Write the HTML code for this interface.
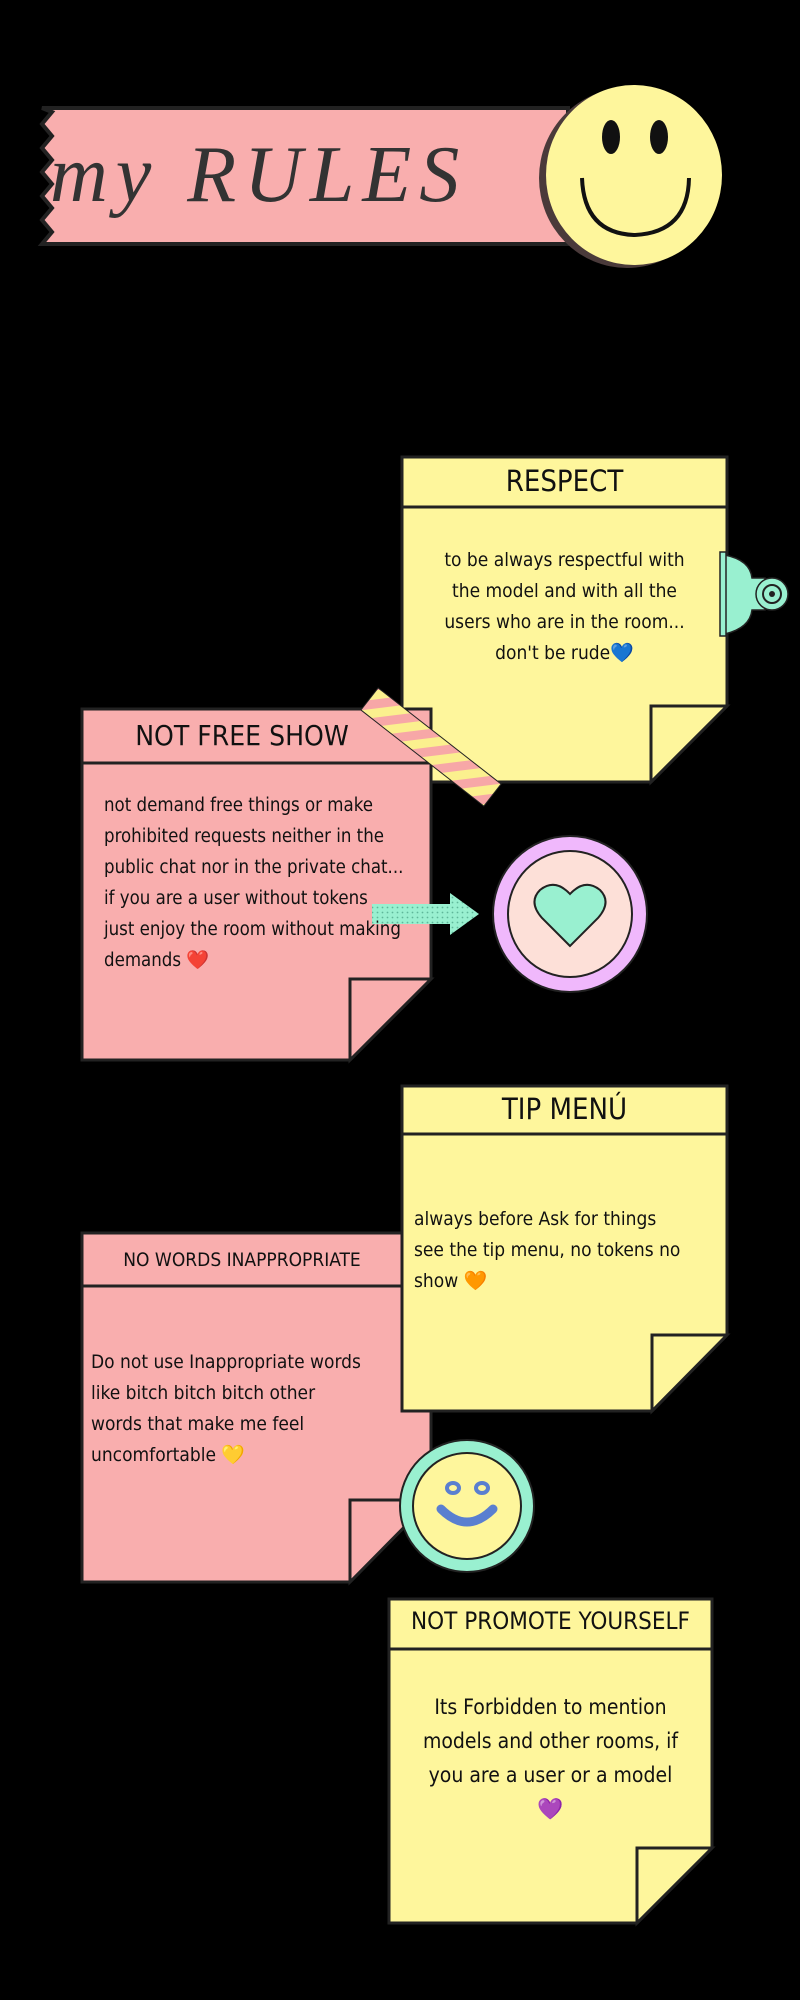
<!DOCTYPE html>
<html><head><meta charset="utf-8"><style>
html,body{margin:0;padding:0;background:#000;}
body{width:800px;height:2000px;position:relative;overflow:hidden;font-family:"Liberation Sans Narrow","DejaVu Sans Condensed","Liberation Sans",sans-serif;color:#111;}
.t{position:absolute;white-space:nowrap;}
.c{text-align:center;}
svg{position:absolute;left:0;top:0;}
</style></head><body>
<svg width="800" height="2000" viewBox="0 0 800 2000">
<defs>
<pattern id="st" width="18" height="18" patternUnits="userSpaceOnUse" patternTransform="rotate(45)">
<rect width="18" height="18" fill="#fbf08e"/><rect width="9" height="18" fill="#f7a7a7"/></pattern>
<pattern id="dot" width="5" height="5" patternUnits="userSpaceOnUse"><rect width="5" height="5" fill="#99f0d0"/><circle cx="2.5" cy="2.5" r="0.9" fill="#5fb79a"/></pattern>
</defs>
<!-- banner -->
<polygon points="42,108 568,108 568,244 42,244 52,232 42,220 52,208 42,196 52,184 42,172 52,160 42,148 52,136 42,124 52,112" fill="#f9aeae" stroke="#222" stroke-width="4"/>
<ellipse cx="627" cy="178" rx="88" ry="90" fill="#4a3a3a"/>
<ellipse cx="634" cy="175" rx="88" ry="90" fill="#fef69c"/>
<ellipse cx="611" cy="137" rx="9" ry="17" fill="#111"/>
<ellipse cx="659" cy="137" rx="9" ry="17" fill="#111"/>
<path d="M582 178 Q584 233 634 235 Q688 233 689 178" fill="none" stroke="#111" stroke-width="4"/>

<!-- RESPECT note -->
<polygon points="402,457 727,457 727,706 651,782 402,782" fill="#fef69c" stroke="#222" stroke-width="3"/>
<line x1="402" y1="507" x2="727" y2="507" stroke="#222" stroke-width="3"/>
<polygon points="651,706 727,706 651,782" fill="#fef69c" stroke="#222" stroke-width="3"/>
<!-- clip -->
<path d="M725 555 Q750 560 752 578 L765 578 L765 610 L752 610 Q750 628 725 634 Z" fill="#99f0d0" stroke="#222" stroke-width="1.5"/>
<rect x="720" y="552" width="6" height="84" fill="#99f0d0" stroke="#222" stroke-width="1.5"/>
<circle cx="772" cy="594" r="16" fill="#99f0d0" stroke="#222" stroke-width="1.5"/>
<circle cx="772" cy="594" r="9" fill="none" stroke="#222" stroke-width="2"/>
<circle cx="772" cy="594" r="3" fill="#222"/>

<!-- NOT FREE SHOW note -->
<polygon points="82,709 431,709 431,979 350,1060 82,1060" fill="#f9aeae" stroke="#222" stroke-width="3"/>
<line x1="82" y1="763" x2="431" y2="763" stroke="#222" stroke-width="3"/>
<polygon points="350,979 431,979 350,1060" fill="#f9aeae" stroke="#222" stroke-width="3"/>
<!-- tape -->
<g transform="translate(431,747) rotate(38)">
<rect x="-78" y="-14" width="156" height="28" fill="url(#st)" stroke="#222" stroke-width="1"/>
</g>
<!-- heart circle -->
<ellipse cx="570" cy="914" rx="77" ry="78" fill="#f0b8fc" stroke="#222" stroke-width="2"/>
<ellipse cx="570" cy="914" rx="62" ry="63" fill="#fde0d8" stroke="#222" stroke-width="2"/>
<path d="M570 946 L542 918 Q528 902 540 890 Q555 878 570 894 Q585 878 600 890 Q612 902 598 918 Z" fill="#99f0d0" stroke="#222" stroke-width="2"/>
<!-- arrow -->
<polygon points="372,904 450,904 450,893 479,914 450,935 450,924 372,924" fill="url(#dot)"/>

<!-- NO WORDS note -->
<polygon points="82,1233 431,1233 431,1500 350,1582 82,1582" fill="#f9aeae" stroke="#222" stroke-width="3"/>
<line x1="82" y1="1286" x2="431" y2="1286" stroke="#222" stroke-width="3"/>
<polygon points="350,1500 431,1500 350,1582" fill="#f9aeae" stroke="#222" stroke-width="3"/>

<!-- TIP MENU note -->
<polygon points="402,1086 727,1086 727,1335 652,1411 402,1411" fill="#fef69c" stroke="#222" stroke-width="3"/>
<line x1="402" y1="1134" x2="727" y2="1134" stroke="#222" stroke-width="3"/>
<polygon points="652,1335 727,1335 652,1411" fill="#fef69c" stroke="#222" stroke-width="3"/>

<!-- small smiley -->
<ellipse cx="467" cy="1506" rx="67" ry="66" fill="#99f0d0" stroke="#222" stroke-width="2"/>
<ellipse cx="467" cy="1506" rx="54" ry="53" fill="#fef69c" stroke="#222" stroke-width="2"/>
<ellipse cx="453" cy="1488" rx="6" ry="5" fill="none" stroke="#5a7fd0" stroke-width="4"/>
<ellipse cx="482" cy="1488" rx="6" ry="5" fill="none" stroke="#5a7fd0" stroke-width="4"/>
<path d="M441 1509 Q467 1535 493 1509" fill="none" stroke="#5a7fd0" stroke-width="9" stroke-linecap="round"/>

<!-- NOT PROMOTE note -->
<polygon points="389,1599 712,1599 712,1848 637,1923 389,1923" fill="#fef69c" stroke="#222" stroke-width="3"/>
<line x1="389" y1="1649" x2="712" y2="1649" stroke="#222" stroke-width="3"/>
<polygon points="637,1848 712,1848 637,1923" fill="#fef69c" stroke="#222" stroke-width="3"/>
</svg>

<div class="t" style="left:50px;top:130px;font-family:'Liberation Serif',serif;font-style:italic;font-size:80px;letter-spacing:8px;color:#333;">my RULES</div>

<div class="t c" style="left:402px;width:325px;top:464px;font-size:29px;">RESPECT</div>
<div class="t c" style="left:402px;width:325px;top:545px;font-size:19px;line-height:31px;">to be always respectful with<br>the model and with all the<br>users who are in the room...<br>don't be rude💙</div>

<div class="t" style="left:82px;width:320px;top:719px;font-size:28px;text-align:center;">NOT FREE SHOW</div>
<div class="t" style="left:104px;top:790px;font-size:18.5px;line-height:31px;">not demand free things or make<br>prohibited requests neither in the<br>public chat nor in the private chat...<br>if you are a user without tokens<br>just enjoy the room without making<br>demands ❤️</div>

<div class="t c" style="left:402px;width:325px;top:1092px;font-size:29px;">TIP MENÚ</div>
<div class="t" style="left:414px;top:1204px;font-size:19px;line-height:31px;">always before Ask for things<br>see the tip menu, no tokens no<br>show 🧡</div>

<div class="t c" style="left:82px;width:320px;top:1249px;font-size:19px;">NO WORDS INAPPROPRIATE</div>
<div class="t" style="left:91px;top:1347px;font-size:19px;line-height:31px;">Do not use Inappropriate words<br>like bitch bitch bitch other<br>words that make me feel<br>uncomfortable 💛</div>

<div class="t c" style="left:389px;width:323px;top:1607px;font-size:24px;">NOT PROMOTE YOURSELF</div>
<div class="t c" style="left:389px;width:323px;top:1690px;font-size:21px;line-height:34px;">Its Forbidden to mention<br>models and other rooms, if<br>you are a user or a model<br>💜</div>
</body></html>
